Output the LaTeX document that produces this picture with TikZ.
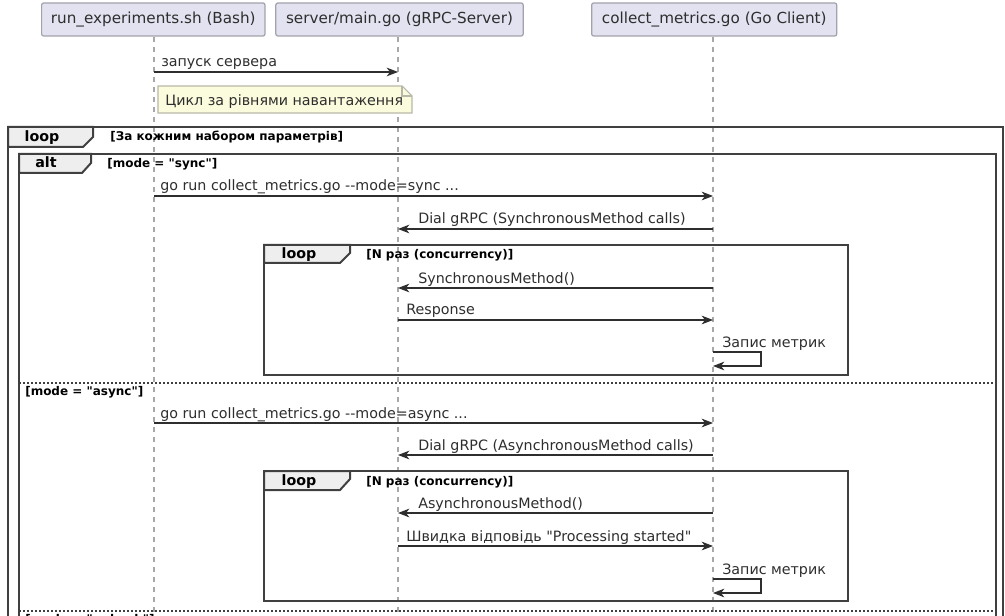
\documentclass[tikz,border=0pt]{standalone}
\usepackage{fontspec}
\setmainfont{DejaVu Sans}[Ligatures=TeXOff]
\usetikzlibrary{arrows.meta}
\definecolor{txt}{HTML}{2E2E2E}
\definecolor{partfill}{HTML}{E2E2F0}
\definecolor{partline}{HTML}{A2A2AC}
\definecolor{lifeline}{HTML}{A8A8A8}
\definecolor{framecol}{HTML}{404040}
\definecolor{tabfill}{HTML}{EEEEEE}
\definecolor{notefill}{HTML}{FBFBDD}
\definecolor{noteline}{HTML}{B8B8A8}
\begin{document}
\begin{tikzpicture}[x=0.75pt,y=-0.75pt,
  part/.style={draw=partline,fill=partfill,line width=0.9pt,rounded corners=1.5pt,
    minimum height=24.75pt,inner sep=0pt,text=txt,font=\fontsize{11.4}{13}\selectfont},
  lline/.style={draw=lifeline,line width=0.8pt,dash pattern=on 4pt off 3.5pt},
  msg/.style={draw=txt,line width=0.8pt,-{Stealth[length=8.5pt,width=6.5pt,inset=2.5pt]}},
  mtext/.style={anchor=base west,inner sep=0pt,text=txt,font=\fontsize{10.7}{12}\selectfont},
  frameline/.style={draw=framecol,line width=1.5pt},
  tab/.style={draw=framecol,fill=tabfill,line width=1.5pt},
  tabtext/.style={anchor=base,inner sep=0pt,text=black,font=\bfseries\fontsize{10.7}{12}\selectfont},
  cond/.style={anchor=base west,inner sep=0pt,text=black,font=\bfseries\fontsize{9}{10}\selectfont},
  sep/.style={draw=framecol,line width=0.8pt,dash pattern=on 1.5pt off 1.5pt},
  notebox/.style={draw=noteline,fill=notefill,line width=0.8pt}]
\useasboundingbox (0,0) rectangle (1005,616);
\clip (0,0) rectangle (1005,616);
\fill[white] (0,0) rectangle (1005,616);

% participants
\node[part,minimum width=167.5pt] (bash) at (153.3,19.5) {run\_experiments.sh (Bash)};
\node[part,minimum width=185.5pt] (server) at (399.5,19.5) {server/main.go (gRPC-Server)};
\node[part,minimum width=183.8pt] (client) at (714.2,19.5) {collect\_metrics.go (Go Client)};

% lifelines
\coordinate (bashend) at (154,640);
\coordinate (serverend) at (398,640);
\coordinate (clientend) at (713,640);
\draw[lline] (bash.south -| bashend) -- (bashend);
\draw[lline] (server.south -| serverend) -- (serverend);
\draw[lline] (client.south -| clientend) -- (clientend);

% message 1
\coordinate (m1a) at (154,72); \coordinate (m1b) at (398,72);
\draw[msg] (m1a) -- (m1b);
\node[mtext] (t1) at (161,67) {запуск сервера};

% note
\draw[notebox] (158,86) -- (402,86) -- (412,96) -- (412,113) -- (158,113) -- cycle;
\draw[notebox,fill=none] (402,86) -- (402,96) -- (412,96);
\node[mtext] (note) at (165,105.5) {Цикл за рівнями навантаження};

% outer loop frame
\draw[frameline] (8,127) rectangle (1003,660);
\draw[tab] (8,127) -- (93,127) -- (93,137) -- (83,147) -- (8,147) -- cycle;
\node[tabtext] (looplbl) at (42,142) {loop};
\node[cond] (loopcond) at (110,141) {[За кожним набором параметрів]};

% alt frame
\draw[frameline] (19,154) rectangle (996,660);
\draw[tab] (19,154) -- (91,154) -- (91,163) -- (82,173) -- (19,173) -- cycle;
\node[tabtext] (altlbl) at (46,168) {alt};
\node[cond] (altcond) at (107,168) {[mode = "sync"]};

% sync messages
\coordinate (m2a) at (154,196); \coordinate (m2b) at (713,196);
\draw[msg] (m2a) -- (m2b);
\node[mtext] (t2) at (160,191) {go run collect\_metrics.go --mode=sync ...};

\coordinate (m3a) at (713,229); \coordinate (m3b) at (398,229);
\draw[msg] (m3a) -- (m3b);
\node[mtext] (t3) at (418,224) {Dial gRPC (SynchronousMethod calls)};

% inner loop 1
\draw[frameline] (264,245) rectangle (848,375);
\draw[tab] (264,245) -- (350,245) -- (350,253) -- (340,263) -- (264,263) -- cycle;
\node[tabtext] (l1lbl) at (299,259) {loop};
\node[cond] (l1cond) at (366,258.5) {[N раз (concurrency)]};

\coordinate (m4a) at (713,288); \coordinate (m4b) at (398,288);
\draw[msg] (m4a) -- (m4b);
\node[mtext] (t4) at (418,283) {SynchronousMethod()};

\coordinate (m5a) at (398,320); \coordinate (m5b) at (713,320);
\draw[msg] (m5a) -- (m5b);
\node[mtext] (t5) at (406,315) {Response};

\coordinate (s1a) at (713,352); \coordinate (s1b) at (713,366);
\draw[msg] (s1a) -- ++(48,0) |- (s1b);
\node[mtext] (t6) at (722,347) {Запис метрик};

% separator async
\draw[sep] (19,383) -- (996,383);
\node[cond] (asynccond) at (25,395.5) {[mode = "async"]};

\coordinate (m7a) at (154,423); \coordinate (m7b) at (713,423);
\draw[msg] (m7a) -- (m7b);
\node[mtext] (t7) at (160,418) {go run collect\_metrics.go --mode=async ...};

\coordinate (m8a) at (713,455); \coordinate (m8b) at (398,455);
\draw[msg] (m8a) -- (m8b);
\node[mtext] (t8) at (418,450) {Dial gRPC (AsynchronousMethod calls)};

% inner loop 2
\draw[frameline] (264,471) rectangle (848,601);
\draw[tab] (264,471) -- (350,471) -- (350,479) -- (340,490) -- (264,490) -- cycle;
\node[tabtext] (l2lbl) at (299,485.5) {loop};
\node[cond] (l2cond) at (366,485) {[N раз (concurrency)]};

\coordinate (m9a) at (713,513); \coordinate (m9b) at (398,513);
\draw[msg] (m9a) -- (m9b);
\node[mtext] (t9) at (418,508) {AsynchronousMethod()};

\coordinate (m10a) at (398,546); \coordinate (m10b) at (713,546);
\draw[msg] (m10a) -- (m10b);
\node[mtext] (t10) at (406,541) {Швидка відповідь "Processing started"};

\coordinate (s2a) at (713,579); \coordinate (s2b) at (713,593);
\draw[msg] (s2a) -- ++(48,0) |- (s2b);
\node[mtext] (t11) at (722,574) {Запис метрик};

% separator pubsub
\draw[sep] (19,611) -- (996,611);
\node[cond] (pubcond) at (25,623.5) {[mode = "pubsub"]};
\end{tikzpicture}
\end{document}
